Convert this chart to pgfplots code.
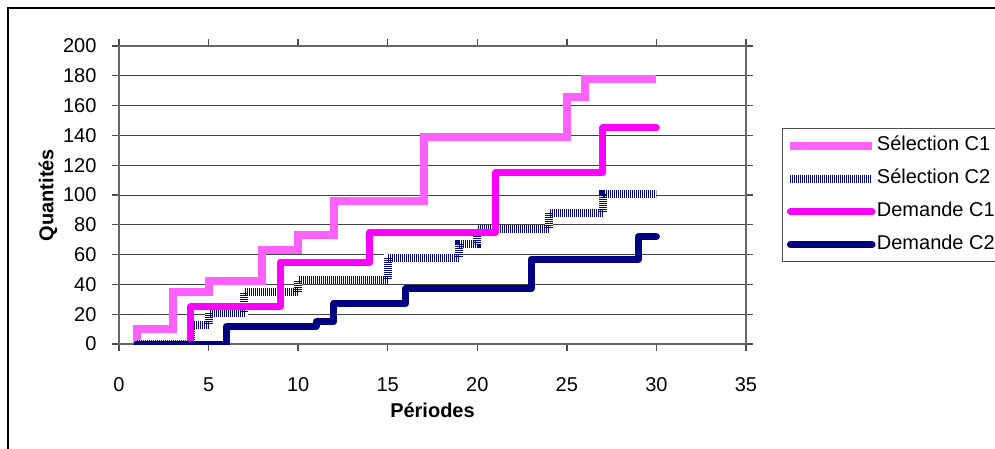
\documentclass[border=0pt]{standalone}
\usepackage{fontspec}
\setmainfont{Liberation Sans}
\usepackage{pgfplots}
\pgfplotsset{compat=1.18}
\definecolor{navyc}{RGB}{0,0,128}
\definecolor{magc}{RGB}{255,0,255}
\begin{document}
\begin{tikzpicture}
\useasboundingbox (0,0) rectangle (597pt,268.8pt);
\draw[line width=1.2pt] (4.8pt,-2pt) -- (4.8pt,264pt) -- (600pt,264pt);
\begin{axis}[
  at={(71.4pt,62.4pt)}, anchor=south west,
  width=376.2pt, height=178.8pt, scale only axis,
  xmin=0, xmax=35, ymin=0, ymax=200,
  xtick={0,5,...,35}, ytick={0,20,...,200},
  ymajorgrids, grid style={black!75, line width=0.6pt},
  tick align=outside, major tick length=4pt,
  tick style={black!70, line width=0.8pt},
  axis line style={black!60, line width=1.2pt},
  /pgf/number format/assume math mode=true,
  every tick label/.append style={font=\fontsize{12}{14}\selectfont},
  xticklabel shift=12.5pt, yticklabel shift=6pt,
  xlabel={Périodes}, ylabel={Quantités},
  label style={font=\fontsize{12}{14}\selectfont\bfseries},
  xlabel style={at={(axis description cs:0.5,-0.2215)}, anchor=center},
  ylabel style={at={(axis description cs:-0.1132,0.5)}, anchor=center},
  legend style={at={(axis description cs:1.057,0.725)}, anchor=north west,
    draw=black!70, line width=0.8pt, font=\fontsize{12}{14}\selectfont,
    inner xsep=2.4pt, inner ysep=4.5pt, row sep=8.4pt,
    nodes={inner ysep=0pt, inner xsep=0.5pt, text height=8.8pt, text depth=2.6pt}},
  legend cell align=left,
  legend image code/.code={\draw[#1] (0pt,0pt) -- (49pt,0pt);},
]
\addplot[const plot, color=magc!62, line width=4.8pt]
  coordinates {(1,0)(1,10)(3,35)(5,42)(8,63)(10,73)(12,96)(17,139)(25,166)(26,178)(30,178)};
\addlegendentry{Sélection C1}
\addplot[const plot, color=white, line width=4.8pt, forget plot]
  coordinates {(1,0)(4,13)(5,21)(7,35)(10,43)(15,58)(19,67)(20,77)(24,88)(27,101)(30,101)};
\addplot[const plot, color=navyc, line width=4.8pt, dash pattern=on 0.4pt off 0.8pt]
  coordinates {(1,0)(4,13)(5,21)(7,35)(10,43)(15,58)(19,67)(20,77)(24,88)(27,101)(30,101)};
\addlegendentry{Sélection C2}
\addplot[const plot, color=magc, line width=4.2pt, line cap=round, line join=round]
  coordinates {(1,0)(4,25)(9,55)(14,75)(21,115)(27,145)(30,145)};
\addlegendentry{Demande C1}
\addplot[const plot, color=navyc, line width=4.2pt, line cap=round, line join=round]
  coordinates {(1,0)(6,12)(11,15)(12,27)(16,37)(23,57)(29,72)(30,72)};
\addlegendentry{Demande C2}
\end{axis}
\end{tikzpicture}
\end{document}
